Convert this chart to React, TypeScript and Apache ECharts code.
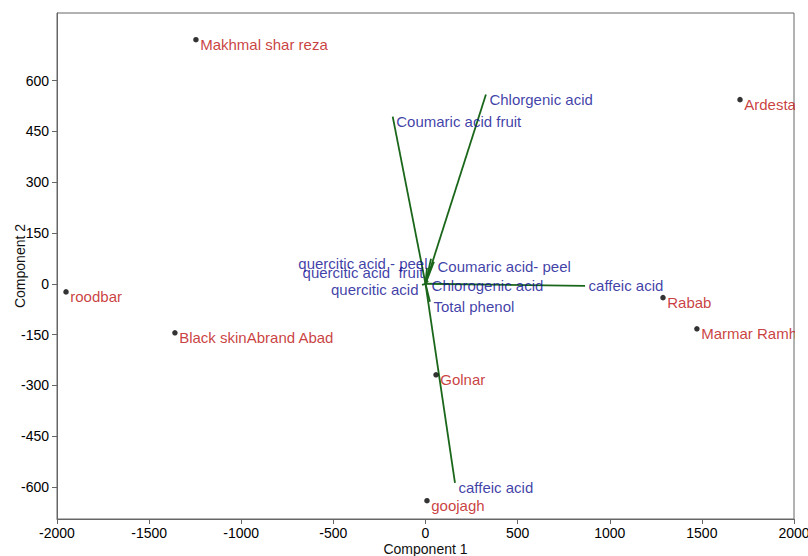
import React, { useEffect, useRef } from "react";
import * as echarts from "echarts";

// Sample scores (Component 1, Component 2)
const sampleNames = [
  "Makhmal shar reza",
  "Ardestan",
  "roodbar",
  "Black skinAbrand Abad",
  "Rabab",
  "Marmar Ramhormoz",
  "Golnar",
  "goojagh",
];
const sampleX = [-1246, 1707, -1951, -1360, 1289, 1473, 57, 8];
const sampleY = [721, 544, -24, -145, -41, -133, -269, -641];

// Variable loadings (scaled)
const loadingNames = [
  "Chlorgenic acid",
  "Coumaric acid fruit",
  "caffeic acid",
  "caffeic acid",
  "Coumaric acid- peel",
  "quercitic acid - peel",
  "quercitic acid  fruit",
  "quercitic acid",
  "Total phenol",
  "Chlorogenic acid",
];
const loadingX = [328, -178, 866, 160, 46, 30, 8, -19, 24, 14];
const loadingY = [559, 494, -6, -588, 65, 74, 47, -3, -53, 9];
const loadingSide = ["right", "right", "right", "right", "right", "left", "left", "left", "right", "right"];

const yTicks = [-600, -450, -300, -150, 0, 150, 300, 450, 600];

const FONT = "Liberation Sans, Arial, Helvetica, sans-serif";

export default function App() {
  const ref = useRef<HTMLDivElement>(null);

  useEffect(() => {
    if (!ref.current) return;
    const chart = echarts.init(ref.current, null, { renderer: "svg" });

    const sampleData = sampleNames.map((n, i) => ({ name: n, value: [sampleX[i], sampleY[i]] }));
    const lineData = loadingNames.map((n, i) => ({
      name: n,
      coords: [
        [0, 0],
        [loadingX[i], loadingY[i]],
      ],
    }));
    const tipData = loadingNames.map((n, i) => ({
      name: n,
      value: [loadingX[i], loadingY[i]],
      label: {
        position: loadingSide[i] as any,
        align: loadingSide[i] === "left" ? "right" : "left",
        offset: i === 2 ? [0, 0] : [0, 5],
      },
    }));

    chart.setOption({
      animation: false,
      backgroundColor: "#ffffff",
      textStyle: { fontFamily: FONT },
      grid: {
        left: 57,
        right: 14,
        top: 13,
        bottom: 37,
        containLabel: false,
        outerBoundsMode: "none",
        show: true,
        borderColor: "#666666",
        borderWidth: 1,
      },
      xAxis: {
        type: "value",
        min: -2000,
        max: 2000,
        interval: 500,
        name: "Component 1",
        nameLocation: "middle",
        nameGap: 23,
        nameMoveOverlap: false,
        nameTextStyle: { color: "#111", fontSize: 14, fontFamily: FONT },
        axisLine: { show: true, onZero: false, lineStyle: { color: "#666666" } },
        axisTick: { show: true, length: 5, lineStyle: { color: "#666666" } },
        axisLabel: {
          color: "#000",
          fontSize: 14,
          margin: 7,
          fontFamily: FONT,
          formatter: (v: number) => String(v),
        },
        splitLine: { show: false },
      },
      yAxis: {
        type: "value",
        min: -695,
        max: 800,
        name: "Component 2",
        nameLocation: "middle",
        nameGap: 30,
        nameMoveOverlap: false,
        nameTextStyle: { color: "#111", fontSize: 14, fontFamily: FONT },
        axisLine: { show: true, onZero: false, lineStyle: { color: "#666666" } },
        axisTick: { show: true, length: 5, customValues: yTicks, lineStyle: { color: "#666666" } },
        axisLabel: {
          color: "#000",
          fontSize: 14,
          margin: 8,
          customValues: yTicks,
          fontFamily: FONT,
          formatter: (v: number) => String(v),
        },
        splitLine: { show: false },
      },
      series: [
        {
          type: "lines",
          coordinateSystem: "cartesian2d",
          data: lineData,
          symbol: "none",
          lineStyle: { color: "#1a661a", width: 1.8, opacity: 1, curveness: 0 },
          z: 2,
          silent: true,
        },
        {
          type: "scatter",
          data: tipData,
          symbolSize: 1,
          itemStyle: { color: "transparent" },
          label: {
            show: true,
            formatter: "{b}",
            color: "#0c0c92",
            fontSize: 15,
            distance: 3,
            fontFamily: FONT,
          },
          z: 3,
          silent: true,
        },
        {
          type: "scatter",
          data: sampleData,
          symbolSize: 5.5,
          itemStyle: { color: "#000" },
          label: {
            show: true,
            formatter: "{b}",
            position: "right",
            distance: 1.5,
            offset: [0, 5],
            color: "#bc0c0c",
            fontSize: 15,
            fontFamily: FONT,
          },
          z: 4,
          silent: true,
        },
      ],
      graphic: [
        {
          type: "rect",
          shape: { x: 795, y: 0, width: 13, height: 500 },
          style: { fill: "#ffffff" },
          z: 100,
          silent: true,
        },
      ],
    });

    return () => chart.dispose();
  }, []);

  return (
    <div
      ref={ref}
      style={{ position: "absolute", left: 0, top: 0, width: 808, height: 556, background: "#fff" }}
    />
  );
}
